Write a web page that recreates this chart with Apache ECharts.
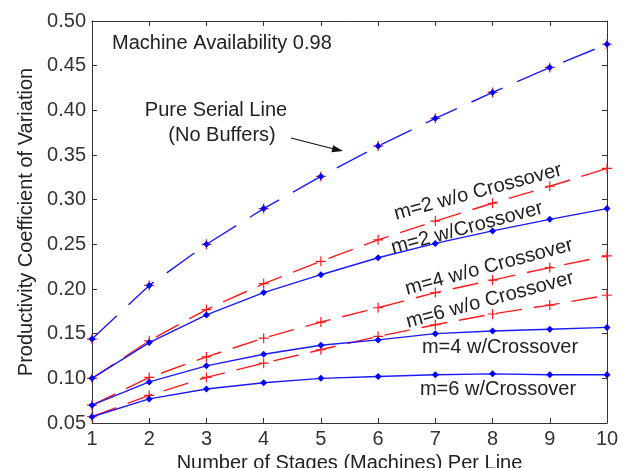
<!DOCTYPE html>
<html>
<head>
<meta charset="utf-8">
<script src="https://cdn.jsdelivr.net/npm/echarts@6/dist/echarts.min.js"></script>
<style>
  html, body { margin: 0; padding: 0; background: #fff; }
  #myChart { width: 626px; height: 468px; }
</style>
</head>
<body>
<div id="myChart"></div>
<script>
// stages per line (x axis)
const stages = [1, 2, 3, 4, 5, 6, 7, 8, 9, 10];
const yTicks = [0.05, 0.10, 0.15, 0.20, 0.25, 0.30, 0.35, 0.40, 0.45, 0.50];

// productivity coefficient of variation
const pureSerial = [0.144, 0.204, 0.250, 0.290, 0.326, 0.360, 0.391, 0.420, 0.448, 0.474];
const m2NoCross = [0.100, 0.142, 0.177, 0.206, 0.231, 0.255, 0.276, 0.296, 0.315, 0.335];
const m2Cross = [0.100, 0.140, 0.171, 0.196, 0.216, 0.235, 0.251, 0.265, 0.278, 0.290];
const m4NoCross = [0.070, 0.101, 0.124, 0.145, 0.163, 0.179, 0.196, 0.210, 0.224, 0.237];
const m6NoCross = [0.057, 0.081, 0.101, 0.117, 0.132, 0.147, 0.160, 0.172, 0.182, 0.193];
const m4Cross = [0.070, 0.096, 0.114, 0.127, 0.137, 0.143, 0.150, 0.153, 0.155, 0.157];
const m6Cross = [0.057, 0.077, 0.088, 0.095, 0.100, 0.102, 0.104, 0.105, 0.104, 0.104];

const FONT = "Liberation Sans";
const plus = "path://M0,4.4 H10 V5.6 H0 Z M4.4,0 H5.6 V10 H4.4 Z";

function pts(arr) {
  return stages.map((s, i) => [s, arr[i]]);
}

function redSeries(name, arr, dash) {
  return {
    name: name,
    type: "line",
    data: pts(arr),
    symbol: plus,
    symbolSize: 10,
    itemStyle: { color: "#ff1a1a" },
    lineStyle: dash
      ? { color: "#ff1a1a", width: 1.4, type: [26, 12] }
      : { width: 0, opacity: 0 },
    z: 2,
    animation: false
  };
}

function blueSeries(name, arr, dashed) {
  return {
    name: name,
    type: "line",
    data: pts(arr),
    symbol: "diamond",
    symbolSize: 7,
    itemStyle: { color: "#0000ff" },
    lineStyle: { color: "#1a1aff", width: 1.4, type: dashed ? [34, 16] : "solid" },
    z: 3,
    animation: false
  };
}

let chart = echarts.init(document.getElementById("myChart"));

const axisCommon = {
  axisLine: { show: true, lineStyle: { color: "#333", width: 1 } },
  axisTick: { show: true, inside: true, length: 5, lineStyle: { color: "#333" } },
  splitLine: { show: false }
};

let option = {
  backgroundColor: "#fff",
  textStyle: { fontFamily: FONT },
  grid: { left: 92, right: 19, top: 21, bottom: 45, containLabel: false, outerBoundsMode: "none" },
  xAxis: [
    Object.assign({
      type: "value", min: 1, max: 10, interval: 1,
      name: "Number of Stages (Machines) Per Line",
      nameLocation: "middle", nameGap: 26,
      nameTextStyle: { fontSize: 20, color: "#222", fontFamily: FONT },
      axisLabel: { fontSize: 20, color: "#333", margin: 6, fontFamily: FONT }
    }, axisCommon),
    Object.assign({
      type: "value", min: 1, max: 10, interval: 1, position: "top",
      axisLabel: { show: false }
    }, axisCommon)
  ],
  yAxis: [
    Object.assign({
      type: "value", min: yTicks[0], max: yTicks[yTicks.length - 1], interval: 0.05,
      name: "Productivity Coefficient of Variation",
      nameLocation: "middle", nameGap: 56,
      nameTextStyle: { fontSize: 20, color: "#222", fontFamily: FONT },
      axisLabel: {
        fontSize: 20, color: "#333", margin: 6, fontFamily: FONT,
        formatter: v => v.toFixed(2)
      }
    }, axisCommon),
    Object.assign({
      type: "value", min: yTicks[0], max: yTicks[yTicks.length - 1], interval: 0.05,
      position: "right", axisLabel: { show: false }
    }, axisCommon)
  ],
  series: [
    redSeries("Pure Serial Line (+)", pureSerial, false),
    blueSeries("Pure Serial Line", pureSerial, true),
    redSeries("m=2 w/o Crossover", m2NoCross, true),
    redSeries("m=4 w/o Crossover", m4NoCross, true),
    redSeries("m=6 w/o Crossover", m6NoCross, true),
    blueSeries("m=2 w/Crossover", m2Cross, false),
    blueSeries("m=4 w/Crossover", m4Cross, false),
    blueSeries("m=6 w/Crossover", m6Cross, false)
  ],
  graphic: [
    { type: "text", left: 112, top: 33, style: { text: "Machine Availability 0.98", font: "20px " + FONT, fill: "#222" } },
    { type: "text", x: 216, y: 110, style: { text: "Pure Serial Line", font: "20px " + FONT, fill: "#222", align: "center", verticalAlign: "middle" } },
    { type: "text", x: 222, y: 135, style: { text: "(No Buffers)", font: "20px " + FONT, fill: "#222", align: "center", verticalAlign: "middle" } },
    // arrow
    { type: "line", shape: { x1: 291, y1: 138, x2: 334, y2: 149 }, style: { stroke: "#111", lineWidth: 1.2 } },
    { type: "polygon", shape: { points: [[343, 151], [331.5, 152.3], [333.1, 145.3]] }, style: { fill: "#111" } },
    // curve labels
    { type: "text", x: 478, y: 192, rotation: 15 * Math.PI / 180, style: { text: "m=2 w/o Crossover", font: "20px " + FONT, fill: "#222", align: "center", verticalAlign: "middle" } },
    { type: "text", x: 467, y: 228, rotation: 15 * Math.PI / 180, style: { text: "m=2 w/Crossover", font: "20px " + FONT, fill: "#222", align: "center", verticalAlign: "middle" } },
    { type: "text", x: 489, y: 267, rotation: 15 * Math.PI / 180, style: { text: "m=4 w/o Crossover", font: "20px " + FONT, fill: "#222", align: "center", verticalAlign: "middle" } },
    { type: "text", x: 490, y: 300, rotation: 15 * Math.PI / 180, style: { text: "m=6 w/o Crossover", font: "20px " + FONT, fill: "#222", align: "center", verticalAlign: "middle" } },
    { type: "text", x: 500, y: 347, style: { text: "m=4 w/Crossover", font: "20px " + FONT, fill: "#222", align: "center", verticalAlign: "middle" } },
    { type: "text", x: 498, y: 389, style: { text: "m=6 w/Crossover", font: "20px " + FONT, fill: "#222", align: "center", verticalAlign: "middle" } }
  ]
};

chart.setOption(option);
</script>
</body>
</html>
